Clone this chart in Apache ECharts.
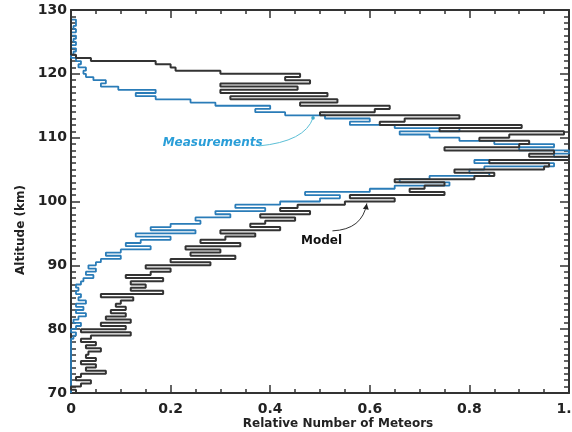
<!DOCTYPE html>
<html>
<head>
<meta charset="utf-8">
<script src="https://cdn.jsdelivr.net/npm/echarts@6/dist/echarts.min.js"></script>
<style>html,body{margin:0;padding:0;background:#fff;overflow:hidden;width:572px;height:432px}#c{width:572px;height:432px;display:block}</style>
</head>
<body>
<div id="c"></div>
<script>
// Altitude binning (km)
const ALT_START = 70;
const BIN = 0.5;
// Tick labels
const xTicks = [0, 0.2, 0.4, 0.6, 0.8, 1.0];
const yTicks = [70, 80, 90, 100, 110, 120, 130];
// Model (black): relative number per 0.5 km bin, from 70 km upward
const modelValues = [
  0.01,0.00,0.02,0.04,0.01,0.02,0.07,0.03,0.05,0.02,
  0.05,0.03,0.035,0.06,0.03,0.05,0.02,0.04,0.12,0.02,
  0.11,0.06,0.12,0.07,0.11,0.08,0.11,0.09,0.10,0.125,
  0.06,0.185,0.12,0.15,0.12,0.185,0.11,0.16,0.20,0.15,
  0.28,0.20,0.33,0.24,0.30,0.23,0.34,0.26,0.31,0.37,
  0.30,0.42,0.36,0.39,0.45,0.38,0.48,0.42,0.455,0.55,
  0.65,0.56,0.75,0.68,0.71,0.75,0.65,0.81,0.85,0.77,
  0.95,0.96,0.84,1.00,0.92,0.97,0.75,0.90,0.92,0.82,
  0.88,0.99,0.74,0.905,0.62,0.67,0.78,0.50,0.61,0.64,
  0.46,0.535,0.32,0.515,0.30,0.455,0.30,0.48,0.43,0.46,
  0.30,0.21,0.20,0.17,0.04,0.01,0,0,0,0,
  0,0,0,0,0,0,0,0,0,0
];
// Measurements (blue)
const measValues = [
  0,0,0,0,0,0,0,0,0,0,
  0,0,0,0,0,0,0,0.005,0.01,0,
  0.01,0.02,0.005,0.015,0.03,0.01,0.025,0.01,0.03,0.015,
  0.02,0.01,0.015,0.01,0.02,0.025,0.045,0.03,0.05,0.035,
  0.05,0.06,0.10,0.07,0.10,0.16,0.11,0.14,0.20,0.13,
  0.25,0.16,0.20,0.26,0.25,0.32,0.29,0.39,0.33,0.42,
  0.50,0.54,0.47,0.60,0.65,0.76,0.66,0.72,0.84,0.80,
  0.83,0.97,0.81,1.00,0.97,1.00,0.90,0.97,0.85,0.78,
  0.72,0.66,0.78,0.65,0.56,0.60,0.51,0.43,0.37,0.40,
  0.29,0.24,0.17,0.13,0.17,0.095,0.06,0.07,0.045,0.03,
  0.025,0.03,0.015,0.02,0.01,0,0.005,0.01,0,0.01,
  0.005,0.01,0,0.01,0.005,0.01,0.01,0,0,0
];

function stepPoints(vals) {
  const pts = [];
  vals.forEach((v, i) => {
    const a = ALT_START + i * BIN;
    pts.push([v, a], [v, a + BIN]);
  });
  return pts;
}

const FONT = 'DejaVu Sans';
const chart = echarts.init(document.getElementById('c'), null, {renderer: 'canvas', width: 572, height: 432});

const axisCommon = {
  axisLine: {show: true, onZero: false, lineStyle: {color: '#333', width: 2}},
  splitLine: {show: false}
};

chart.setOption({
  animation: false,
  backgroundColor: '#fff',
  grid: {left: 71, right: 3, top: 10, bottom: 39, containLabel: false, outerBoundsMode: 'none'},
  xAxis: [
    Object.assign({}, axisCommon, {
      type: 'value', min: xTicks[0], max: xTicks[xTicks.length - 1], interval: 0.2, position: 'bottom',
      axisTick: {show: true, inside: true, length: 8, lineStyle: {color: '#333', width: 1.5}},
      minorTick: {show: true, splitNumber: 4, length: 4, lineStyle: {color: '#333', width: 1.5}},
      axisLabel: {
        margin: 9, color: '#222', fontFamily: FONT, fontWeight: 'bold', fontSize: 14,
        hideOverlap: false,
        formatter: v => v === 0 ? '0' : v.toFixed(1)
      }
    }),
    Object.assign({}, axisCommon, {
      type: 'value', min: xTicks[0], max: xTicks[xTicks.length - 1], interval: 0.2, position: 'top',
      axisTick: {show: true, inside: true, length: 8, lineStyle: {color: '#333', width: 1.5}},
      minorTick: {show: true, splitNumber: 4, length: 4, lineStyle: {color: '#333', width: 1.5}},
      axisLabel: {show: false}
    })
  ],
  yAxis: [
    Object.assign({}, axisCommon, {
      type: 'value', min: yTicks[0], max: yTicks[yTicks.length - 1], interval: 10, position: 'left',
      axisTick: {show: true, inside: true, length: 9, lineStyle: {color: '#333', width: 1.5}},
      minorTick: {show: true, splitNumber: 10, length: 5, lineStyle: {color: '#333', width: 1.5}},
      axisLabel: {margin: 4, color: '#222', fontFamily: FONT, fontWeight: 'bold', fontSize: 14}
    }),
    Object.assign({}, axisCommon, {
      type: 'value', min: yTicks[0], max: yTicks[yTicks.length - 1], interval: 10, position: 'right',
      axisTick: {show: true, inside: true, length: 9, lineStyle: {color: '#333', width: 1.5}},
      minorTick: {show: true, splitNumber: 10, length: 5, lineStyle: {color: '#333', width: 1.5}},
      axisLabel: {show: false}
    })
  ],
  series: [
    {
      name: 'Measurements', type: 'line', xAxisIndex: 0, yAxisIndex: 0,
      data: stepPoints(measValues), showSymbol: false, symbol: 'none',
      lineStyle: {color: '#2a7cb8', width: 1.8}, z: 2
    },
    {
      name: 'Model', type: 'line', xAxisIndex: 0, yAxisIndex: 0,
      data: stepPoints(modelValues), showSymbol: false, symbol: 'none',
      lineStyle: {color: '#333', width: 2}, z: 3
    }
  ]
});

function px(x, y) { return chart.convertToPixel({gridIndex: 0}, [x, y]); }

const mText = px(0.184, 109.2);
const mFrom = px(0.377, 108.7);
const mCtrl = px(0.47, 109.4);
const mTo = px(0.486, 113.1);
const dText = px(0.462, 93.9);
const dFrom = px(0.525, 95.4);
const dCtrl = px(0.585, 95.6);
const dTo = px(0.594, 99.7);
const ang = Math.atan2(dTo[1] - dCtrl[1], dTo[0] - dCtrl[0]);
const hl = 6, hw = 3;
const tip = dTo;
const base = [tip[0] - hl * Math.cos(ang), tip[1] - hl * Math.sin(ang)];
const head = [
  tip,
  [base[0] + hw * Math.sin(ang), base[1] - hw * Math.cos(ang)],
  [base[0] - hw * Math.sin(ang), base[1] + hw * Math.cos(ang)]
];

chart.setOption({
  graphic: [
    {type: 'text', x: 21, y: 230, rotation: Math.PI / 2,
      style: {text: 'Altitude (km)', fill: '#222', font: 'bold 12px "DejaVu Sans"', align: 'center', verticalAlign: 'middle'}},
    {type: 'text', x: 338, y: 424,
      style: {text: 'Relative Number of Meteors', fill: '#222', font: 'bold 12px "DejaVu Sans"', align: 'center', verticalAlign: 'middle'}},
    {type: 'text', x: mText[0], y: mText[1], z: 10,
      style: {text: 'Measurements', fill: '#2a9ed8', font: 'italic bold 12px "DejaVu Sans"', align: 'left', verticalAlign: 'middle'}},
    {type: 'bezierCurve', z: 10,
      shape: {x1: mFrom[0], y1: mFrom[1], cpx1: mCtrl[0], cpy1: mCtrl[1], x2: mTo[0], y2: mTo[1]},
      style: {stroke: '#5cbfd6', lineWidth: 1, fill: null}},
    {type: 'circle', z: 10, shape: {cx: mTo[0], cy: mTo[1], r: 1.8}, style: {fill: '#3fa9c9'}},
    {type: 'text', x: dText[0], y: dText[1], z: 10,
      style: {text: 'Model', fill: '#111', font: 'bold 12px "DejaVu Sans"', align: 'left', verticalAlign: 'middle'}},
    {type: 'bezierCurve', z: 10,
      shape: {x1: dFrom[0], y1: dFrom[1], cpx1: dCtrl[0], cpy1: dCtrl[1], x2: dTo[0], y2: dTo[1]},
      style: {stroke: '#333', lineWidth: 1, fill: null}},
    {type: 'polygon', z: 10, shape: {points: head}, style: {fill: '#222'}}
  ]
});
</script>
</body>
</html>
